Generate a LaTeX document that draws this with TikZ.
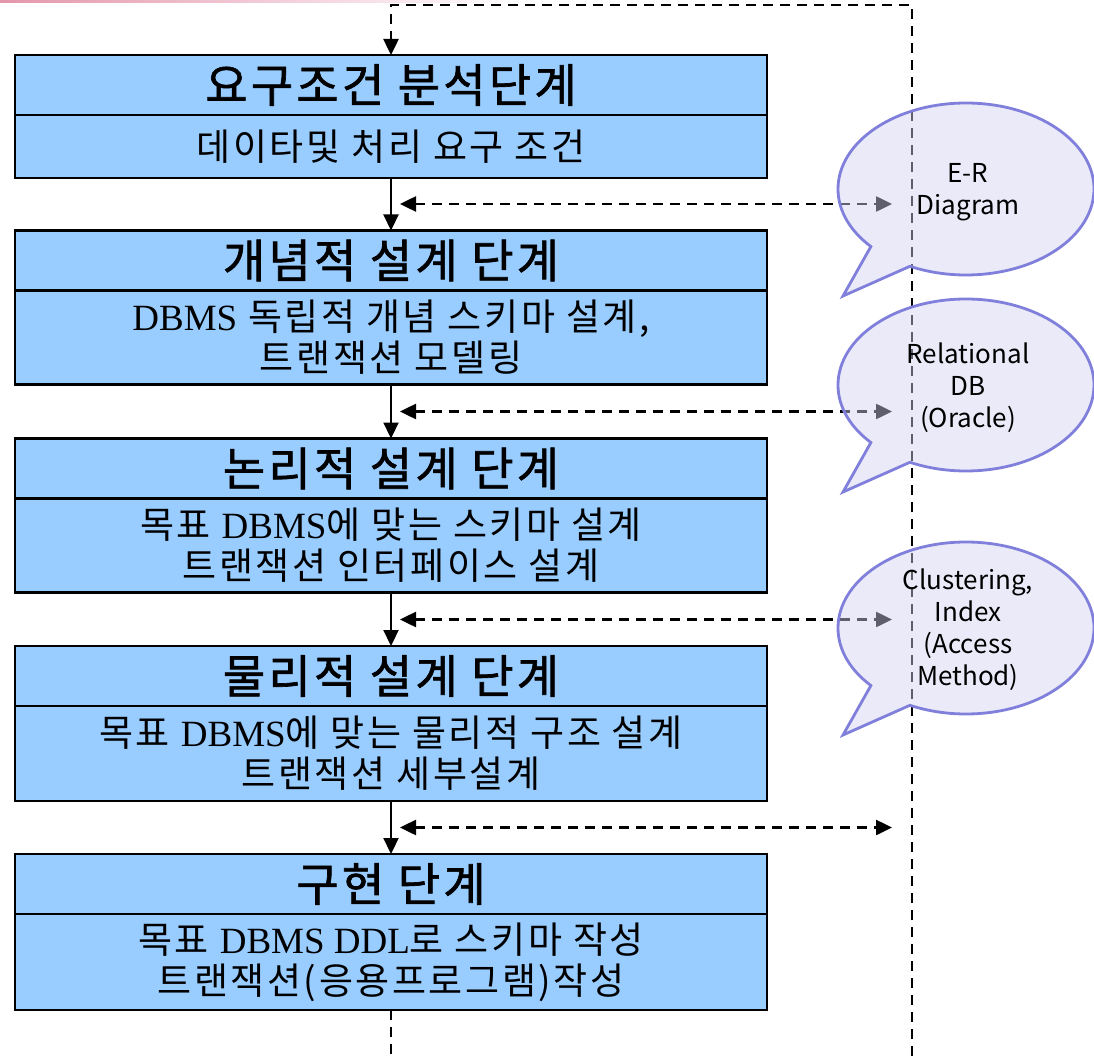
\documentclass[tikz,border=0pt]{standalone}
\usepackage{fontspec}
\setmainfont{Noto Sans CJK KR}
\newfontfamily\tittelfont{Noto Sans CJK KR}[FakeBold=1.4, LetterSpace=7]
\newfontfamily\innfont{Noto Sans CJK KR}[LetterSpace=7]
\newfontfamily\dbfont{Liberation Serif}
\usetikzlibrary{arrows.meta,positioning}
\definecolor{boksblaa}{RGB}{153,204,255}
\definecolor{boblekant}{RGB}{128,128,220}
\definecolor{boblefyll}{RGB}{209,209,241}
\definecolor{rosa}{RGB}{228,150,172}
\tikzset{
    >={Triangle[length=16pt,width=15pt]},
    trinn/.style={
           rectangle,
           draw=black, line width=2.5pt,
           fill=boksblaa,
           minimum width=752pt,
           minimum height=60pt,
           inner sep=0pt, outer sep=0pt,
           font=\tittelfont\fontsize{46}{48}\selectfont},
    innhold/.style={
           trinn,
           align=center,
           font=\innfont\fontsize{37}{41}\selectfont},
    pil/.style={
           ->,
           line width=2.2pt},
    stipl/.style={
           line width=2.5pt,
           dash pattern=on 10pt off 7pt},
    boble/.style={
           draw=boblekant, line width=2.8pt,
           fill=boblefyll, fill opacity=0.45, draw opacity=1},
    bobletekst/.style={
           align=center,
           font=\fontsize{26}{32}\selectfont}
}

\begin{document}
\begin{tikzpicture}[x=1pt, y=-1pt, node distance=0pt]
        \useasboundingbox (0,0) rectangle (1094,1056);
        \shade[left color=rosa, right color=white] (0,0) rectangle (520,3);

        % trinnene
        \node[trinn] (t1) at (391,85) {요구조건 분석단계};
        \node[innhold, below=of t1, minimum height=63pt] (i1) {데이타및 처리 요구 조건};
        \node[trinn] (t2) at (391,260.5) {개념적 설계 단계};
        \node[innhold, below=of t2, minimum height=94pt] (i2) {{\dbfont DBMS} 독립적 개념 스키마 설계,\\트랜잭션 모델링};
        \node[trinn] (t3) at (391,468.5) {논리적 설계 단계};
        \node[innhold, below=of t3, minimum height=94pt] (i3) {목표 {\dbfont DBMS}에 맞는 스키마 설계\\트랜잭션 인터페이스 설계};
        \node[trinn] (t4) at (391,676) {물리적 설계 단계};
        \node[innhold, below=of t4, minimum height=95pt] (i4) {목표 {\dbfont DBMS}에 맞는 물리적 구조 설계\\트랜잭션 세부설계};
        \node[trinn] (t5) at (391,884) {구현 단계};
        \node[innhold, below=of t5, minimum height=96pt] (i5) {목표 {\dbfont DBMS DDL}로 스키마 작성\\트랜잭션(응용프로그램)작성};

        \foreach \a/\b in {1/2,2/3,3/4,4/5}
            \draw[pil] (i\a.south) -- (t\b.north);

        % tilbakekobling
        \coordinate (oppV) at (391,5);
        \coordinate (oppH) at (912,5);
        \coordinate (nedV) at (391,1056);
        \coordinate (nedH) at (912,1056);
        \draw[stipl, ->] (nedH) -- (oppH) -- (oppV) -- (t1.north);
        \draw[stipl] (i5.south) -- (nedV);

        \foreach \n/\y in {1/204,2/411.5,3/619.5,4/827.5} {
            \coordinate (v\n) at (400,\y);
            \coordinate (h\n) at (892,\y);
            \draw[stipl, <->] (v\n) -- (h\n);
        }

        % bobler
        \foreach \y in {189,385,628}
            \draw[boble, shift={(966,\y)}] (138:128 and 86)
                arc[start angle=138, end angle=476, x radius=128, y radius=86]
                -- (-123,107) -- cycle;

        \node[bobletekst] (b1) at (968,192) {E-R\\Diagram};
        \node[bobletekst] (b2) at (968,388) {Relational\\DB\\(Oracle)};
        \node[bobletekst] (b3) at (968,630) {Clustering,\\Index\\(Access\\Method)};
    \end{tikzpicture}
\end{document}
